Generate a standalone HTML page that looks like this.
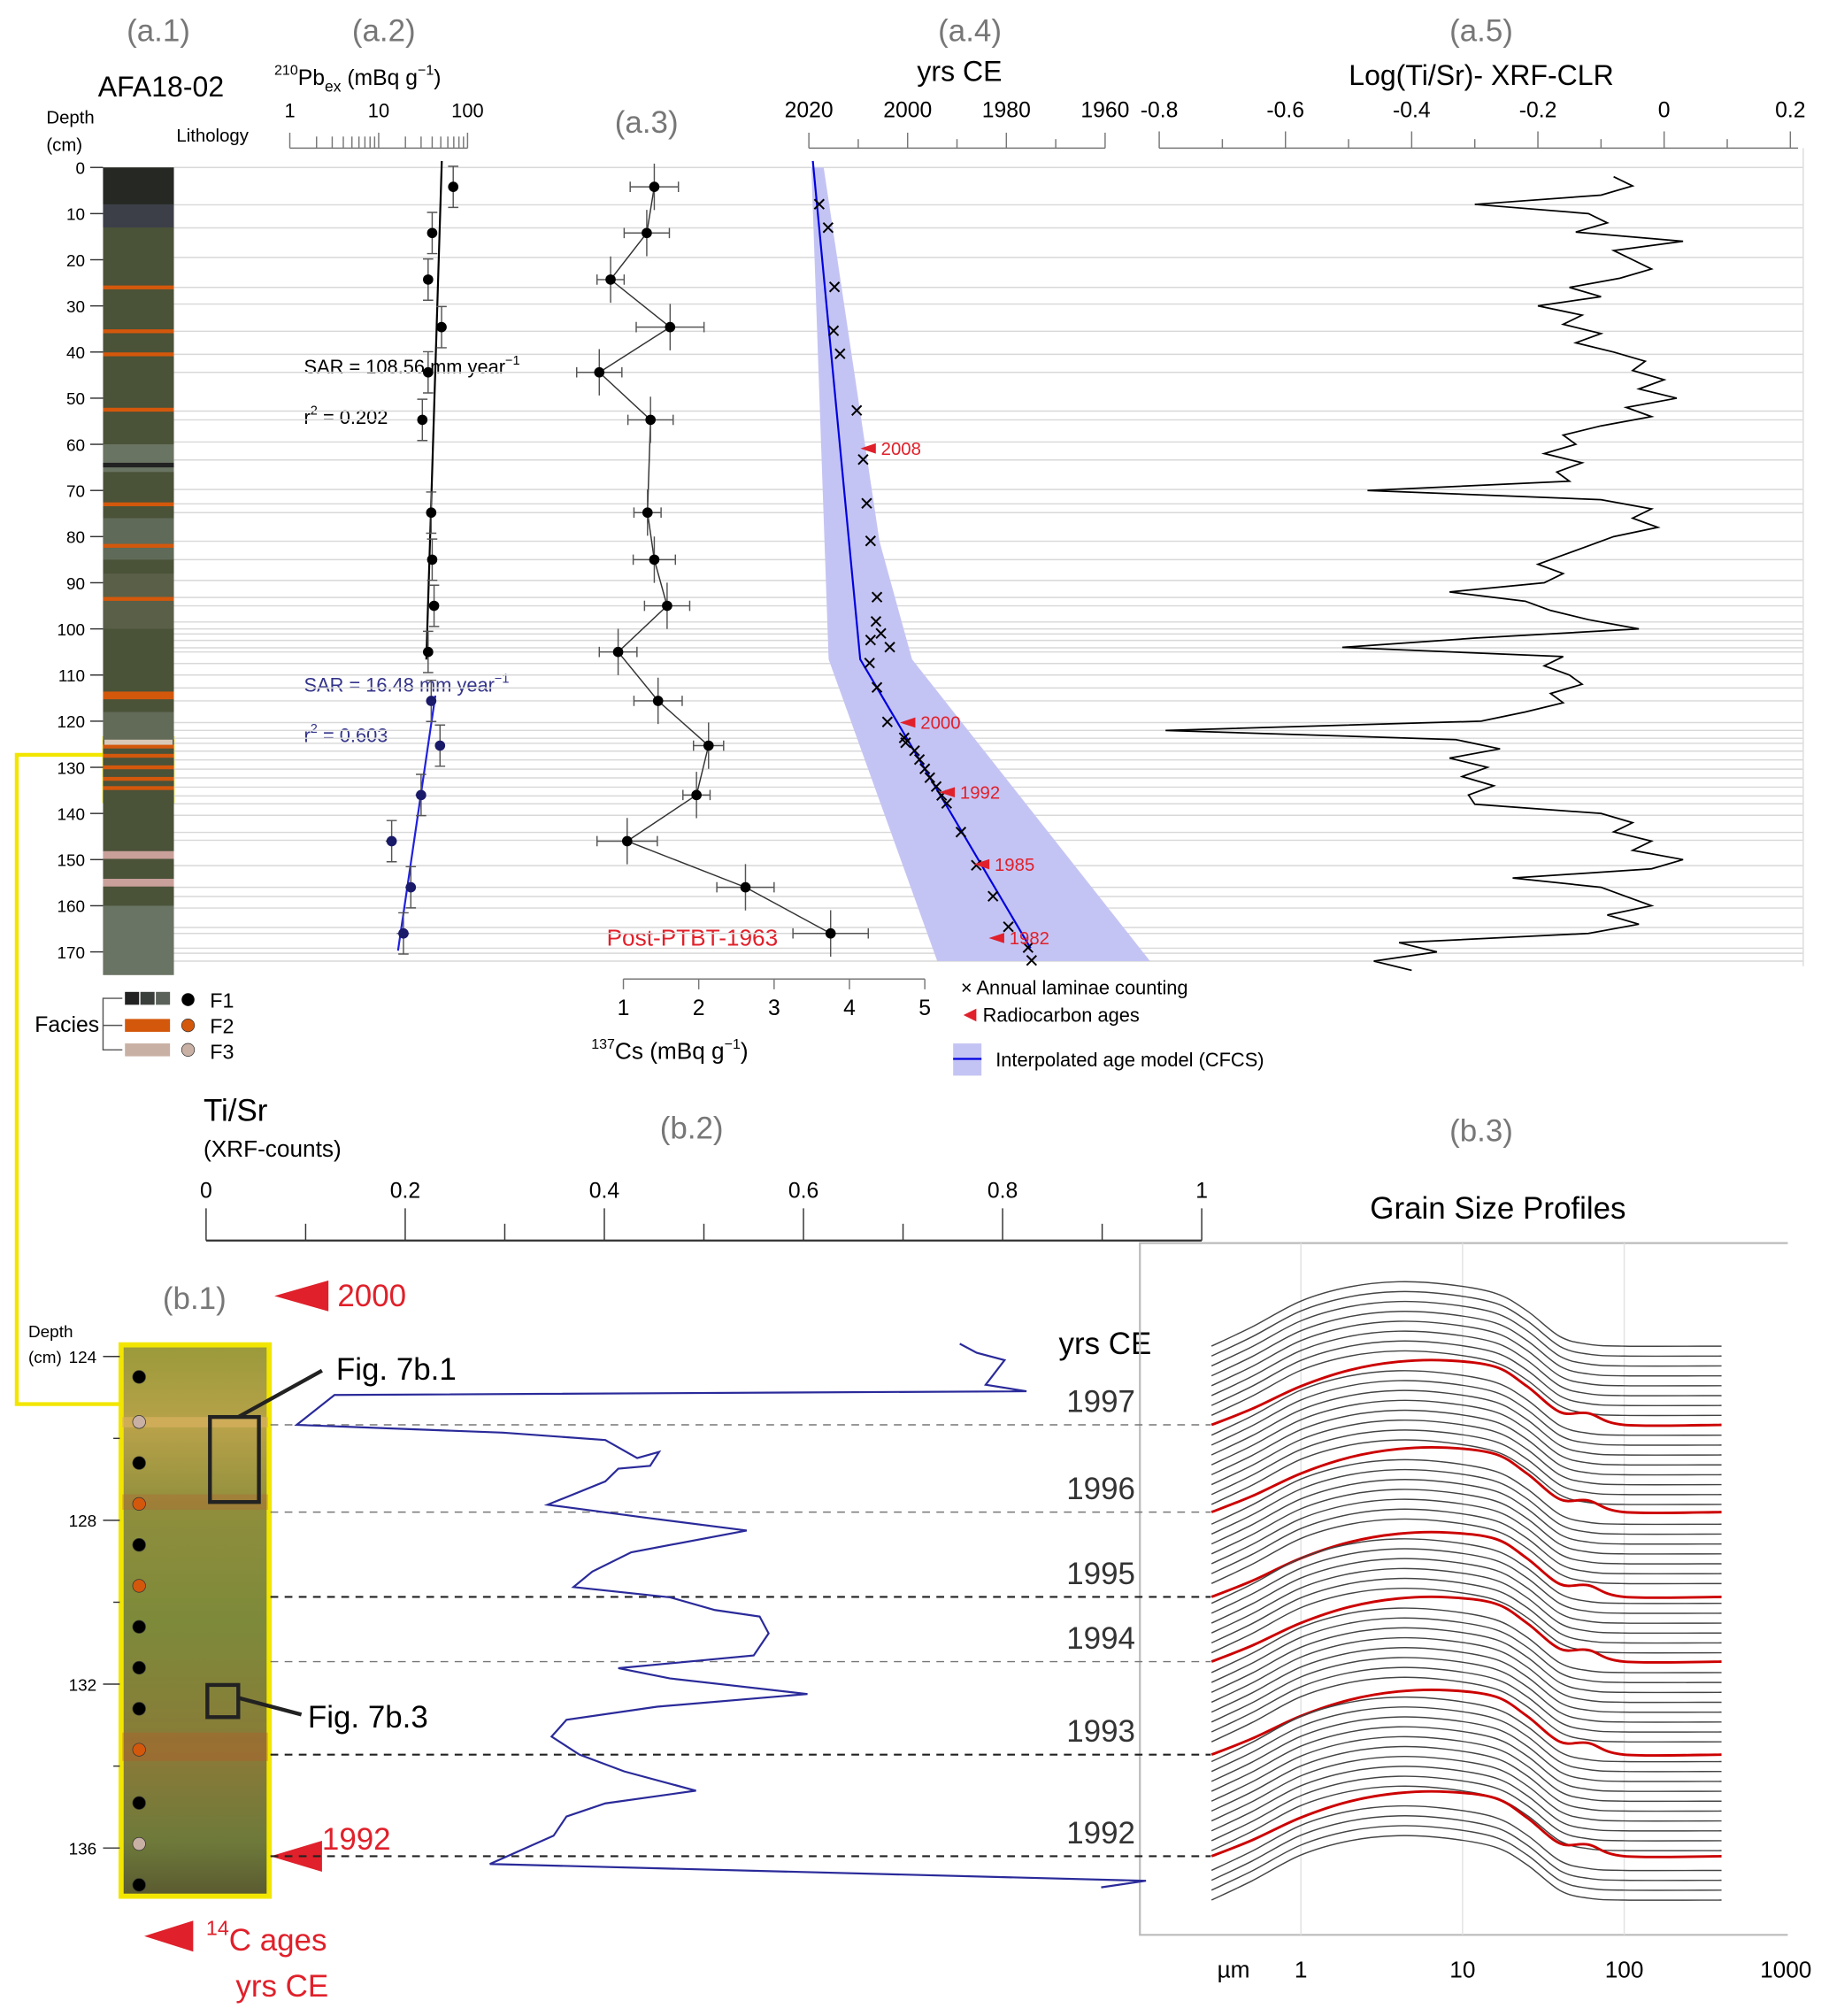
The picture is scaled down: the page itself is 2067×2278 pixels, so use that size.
<!DOCTYPE html>
<html><head><meta charset="utf-8"><style>
html,body{margin:0;padding:0;background:#fff}
svg{display:block}
text{font-family:"Liberation Sans",sans-serif}
</style></head><body>
<svg id="fig" width="2067" height="2278" viewBox="0 0 1420 1565" preserveAspectRatio="none" xmlns="http://www.w3.org/2000/svg">
<g id="static">
<text x="123" y="32" font-size="24" fill="#777" text-anchor="middle">(a.1)</text>
<text x="298" y="32" font-size="24" fill="#777" text-anchor="middle">(a.2)</text>
<text x="502" y="103" font-size="24" fill="#777" text-anchor="middle">(a.3)</text>
<text x="753" y="32" font-size="24" fill="#777" text-anchor="middle">(a.4)</text>
<text x="1150" y="32" font-size="24" fill="#777" text-anchor="middle">(a.5)</text>
<text x="125" y="75" font-size="22" text-anchor="middle">AFA18-02</text>
<text x="745" y="63" font-size="22" text-anchor="middle">yrs CE</text>
<text x="1150" y="66" font-size="22" text-anchor="middle">Log(Ti/Sr)- XRF-CLR</text>
<text x="213" y="66" font-size="17"><tspan font-size="11" dy="-8">210</tspan><tspan dy="8">Pb</tspan><tspan font-size="12" dy="5">ex</tspan><tspan dy="-5"> (mBq g</tspan><tspan font-size="11" dy="-8">−1</tspan><tspan dy="8">)</tspan></text>
<text x="36" y="96" font-size="14">Depth</text>
<text x="36" y="117" font-size="14">(cm)</text>
<text x="137" y="110" font-size="14">Lithology</text>
<text x="520" y="822" font-size="18" text-anchor="middle"><tspan font-size="11" dy="-8">137</tspan><tspan dy="8">Cs (mBq g</tspan><tspan font-size="11" dy="-8">−1</tspan><tspan dy="8">)</tspan></text>
<text x="236" y="290" font-size="15">SAR = 108.56  mm year<tspan font-size="10" dy="-7">−1</tspan></text>
<text x="236" y="329" font-size="15">r<tspan font-size="10" dy="-7">2</tspan><tspan dy="7"> = 0.202</tspan></text>
<text x="236" y="537" font-size="15" fill="#33338a">SAR = 16.48  mm year<tspan font-size="10" dy="-7">−1</tspan></text>
<text x="236" y="576" font-size="15" fill="#33338a">r<tspan font-size="10" dy="-7">2</tspan><tspan dy="7"> = 0.603</tspan></text>
<text x="471" y="734" font-size="18" fill="#e0202a">Post-PTBT-1963</text>
<rect x="97" y="770" width="11" height="10" fill="#222"/>
<rect x="109" y="770" width="11" height="10" fill="#3b3f3c"/>
<rect x="121" y="770" width="11" height="10" fill="#5a625a"/>
<rect x="97" y="791" width="35" height="10" fill="#d4580c"/>
<rect x="97" y="810" width="35" height="10" fill="#c9b0a4"/>
<circle cx="146" cy="776" r="5" fill="#000"/>
<circle cx="146" cy="796" r="5" fill="#d4580c" stroke="#333" stroke-width="0.5"/>
<circle cx="146" cy="815" r="5" fill="#c9b0a4" stroke="#333" stroke-width="0.5"/>
<text x="163" y="782" font-size="16">F1</text>
<text x="163" y="802" font-size="16">F2</text>
<text x="163" y="822" font-size="16">F3</text>
<text x="27" y="801" font-size="17">Facies</text>
<path d="M95,775 H80 V815 H95 M80,796 H95" fill="none" stroke="#555" stroke-width="1"/>
<text x="746" y="772" font-size="15">× Annual laminae counting</text>
<polygon points="748,788 758,783 758,793" fill="#e0202a"/>
<text x="763" y="793" font-size="15">Radiocarbon ages</text>
<rect x="740" y="810" width="22" height="25" fill="#c4c4f4"/>
<line x1="740" y1="822" x2="762" y2="822" stroke="#0000e0" stroke-width="1.5"/>
<text x="773" y="828" font-size="15">Interpolated age model (CFCS)</text>
<rect x="81" y="573" width="53" height="49" fill="none" stroke="#f2e600" stroke-width="3"/>
<path d="M81,586 H13 V1090 H93" fill="none" stroke="#f2e600" stroke-width="3"/>
<text x="158" y="870" font-size="24">Ti/Sr</text>
<text x="158" y="898" font-size="18">(XRF-counts)</text>
<text x="537" y="884" font-size="24" fill="#777" text-anchor="middle">(b.2)</text>
<text x="1150" y="886" font-size="24" fill="#777" text-anchor="middle">(b.3)</text>
<text x="1163" y="946" font-size="24" text-anchor="middle">Grain Size Profiles</text>
<text x="151" y="1016" font-size="24" fill="#777" text-anchor="middle">(b.1)</text>
<polygon points="213,1006 255,994 255,1018" fill="#e0202a"/>
<text x="262" y="1014" font-size="24" fill="#e0202a">2000</text>
<text x="22" y="1038" font-size="13">Depth</text>
<text x="22" y="1058" font-size="13">(cm)</text>
<defs><linearGradient id="core" x1="0" y1="0" x2="0" y2="1">
<stop offset="0" stop-color="#9a9a3a"/><stop offset="0.15" stop-color="#b8a24a"/><stop offset="0.3" stop-color="#8f8e3c"/><stop offset="0.5" stop-color="#7d8a3a"/><stop offset="0.75" stop-color="#8a7a38"/><stop offset="0.9" stop-color="#6e7a3a"/><stop offset="1" stop-color="#5a5a30"/></linearGradient></defs>
<rect x="94" y="1044" width="115" height="428" fill="url(#core)" stroke="#f2e600" stroke-width="4"/>
<rect x="95" y="1100" width="113" height="8" fill="#d8b060" opacity="0.7"/>
<rect x="95" y="1160" width="113" height="12" fill="#b86030" opacity="0.35"/>
<rect x="95" y="1345" width="113" height="22" fill="#b85a28" opacity="0.35"/>
<rect x="163" y="1100" width="38" height="66" fill="none" stroke="#222" stroke-width="3"/>
<line x1="185" y1="1100" x2="250" y2="1064" stroke="#222" stroke-width="3"/>
<text x="261" y="1071" font-size="24">Fig. 7b.1</text>
<rect x="161" y="1308" width="24" height="25" fill="none" stroke="#222" stroke-width="3"/>
<line x1="185" y1="1318" x2="234" y2="1331" stroke="#222" stroke-width="3"/>
<text x="239" y="1341" font-size="24">Fig. 7b.3</text>
<polygon points="210,1441 250,1429 250,1453" fill="#e0202a"/>
<text x="250" y="1436" font-size="24" fill="#e0202a">1992</text>
<polygon points="112,1503 150,1491 150,1515" fill="#e0202a"/>
<text x="160" y="1514" font-size="24" fill="#e0202a"><tspan font-size="16" dy="-12">14</tspan><tspan dy="12">C ages</tspan></text>
<text x="183" y="1550" font-size="24" fill="#e0202a">yrs CE</text>
<text x="822" y="1051" font-size="24">yrs CE</text>
<path d="M1388,965 H885 V1502 H1388" fill="none" stroke="#bbb" stroke-width="1.5"/>
<text x="945" y="1535" font-size="18">µm</text>
</g>
<g id="dyn"></g>
</svg>
<script>
const laminaDepths=[0,8.1,13.1,19.5,26,29.6,35.5,40.5,44.4,52.8,54.7,59.5,63.4,69.8,72.9,74.8,81,85,89.5,93.2,95,98.5,100,101.1,102.5,104.1,105,107.5,110,112.8,115.6,120.3,122,123.7,124.8,126.5,128.4,130.4,132.3,134.3,136.2,137.9,140.4,144.1,145.8,151.3,156,158,160.5,164.7,166,169.2,170.3,172];
const lithOrange=[26,35.5,40.5,52.5,73,82,93.5,114,125.5,127.5,130,132.5,134.5];
const lithPink=[149,155];
const depthTicks=[0,10,20,30,40,50,60,70,80,90,100,110,120,130,140,150,160,170];
const pbDepth=[4.2,14.2,24.3,34.6,44.4,54.7,74.8,85,95,105,115.6,125.3,136,146,156,166];
const pbValue=[69,40,36,51,36,31,39,40,42,36,39,49,30,14,23,19];
const pbErr=[5,4,3,5,4,3,3,4,5,3,3,4,4,2,3,3];
const csDepth=[4.2,14.2,24.3,34.6,44.4,54.7,74.8,85,95,105,115.6,125.3,136,146,156,166];
const csValue=[1.41,1.31,0.83,1.62,0.68,1.36,1.32,1.41,1.58,0.93,1.46,2.13,1.97,1.05,2.62,3.75];
const csErr=[0.32,0.3,0.18,0.45,0.3,0.3,0.18,0.28,0.3,0.25,0.32,0.2,0.18,0.4,0.38,0.5];
const lamYear=[2017.9,2016.1,2014.8,2015,2013.7,2010.3,2009,2008.3,2007.5,2006.2,2006.4,2005.4,2007.5,2003.6,2007.7,2006.2,2004.1,2000.7,2000.4,1998.6,1997.6,1996.5,1995.5,1994.2,1993.1,1992.1,1989.2,1986.1,1982.7,1979.6,1975.6,1974.9];
const lamDepth=[8.1,13.1,26,35.5,40.5,52.8,63.4,72.9,81,93.2,98.5,101.1,102.5,104.1,107.5,112.8,120.3,123.7,124.8,126.5,128.4,130.4,132.3,134.3,136.2,137.9,144.1,151.3,158,164.7,169.2,172];
const c14Year=[2008,2000,1992,1985,1982];
const c14Depth=[60.9,120.3,135.4,151,167];
const modelYear=[2019.2,2009.6,1975.1];
const modelDepth=[-1.4,106.6,169.2];
const bandLeftYear=[2019.5,2016,1994];
const bandLeftDepth=[0,106.6,172];
const bandRightYear=[2017,2005.7,1999.1,1950.9];
const bandRightDepth=[0,81,106.6,172];
const clrDepth=[2,4,6,8,10,12,14,16,18,20,22,24,26,28,30,32,34,36,38,40,42,44,46,48,50,52,54,56,58,60,62,64,66,68,70,72,74,76,78,80,82,84,86,88,90,92,94,96,98,100,102,104,106,108,110,112,114,116,118,120,122,124,126,128,130,132,134,136,138,140,142,144,146,148,150,152,154,156,158,160,162,164,166,168,170,172,174];
const clrValue=[-0.08,-0.05,-0.1,-0.3,-0.12,-0.09,-0.14,0.03,-0.08,-0.05,-0.02,-0.07,-0.15,-0.1,-0.2,-0.13,-0.16,-0.1,-0.14,-0.08,-0.03,-0.05,0.0,-0.04,0.02,-0.06,-0.02,-0.1,-0.16,-0.14,-0.19,-0.13,-0.17,-0.15,-0.47,-0.1,-0.02,-0.05,-0.01,-0.08,-0.12,-0.16,-0.2,-0.16,-0.19,-0.34,-0.22,-0.18,-0.12,-0.04,-0.3,-0.51,-0.16,-0.19,-0.15,-0.13,-0.18,-0.16,-0.22,-0.29,-0.79,-0.33,-0.26,-0.34,-0.28,-0.32,-0.27,-0.31,-0.3,-0.1,-0.05,-0.08,-0.02,-0.05,0.03,-0.02,-0.24,-0.1,-0.06,-0.02,-0.09,-0.04,-0.12,-0.42,-0.36,-0.46,-0.4];
const tisrDepth=[123.69,123.91,124.09,124.69,124.85,124.94,125.67,125.86,126.04,126.48,126.33,126.67,126.74,127.05,127.62,127.68,127.93,128.25,128.78,129.25,129.63,129.88,130.19,130.35,130.76,131.3,131.61,131.86,132.24,132.55,132.87,133.28,133.72,134.13,134.6,134.91,135.23,135.7,136.39,136.8,136.96];
const tisrValue=[0.757,0.774,0.802,0.783,0.824,0.129,0.091,0.298,0.401,0.433,0.455,0.446,0.414,0.401,0.343,0.362,0.44,0.543,0.427,0.388,0.369,0.466,0.511,0.556,0.565,0.55,0.414,0.466,0.604,0.453,0.362,0.347,0.375,0.42,0.492,0.401,0.362,0.349,0.285,0.944,0.899];
const bDepthTicks=[124,128,132,136];
const dotDepth=[124.5,125.6,126.6,127.6,128.6,129.6,130.6,131.6,132.6,133.6,134.9,135.9,136.9];
const dotFacies=[1,3,1,2,1,2,1,1,1,2,1,3,1];
const yearLabels=[1997,1996,1995,1994,1993,1992];
const yearDepth=[125.67,127.8,129.87,131.45,133.72,136.2];
const grainSizes=[0.28,0.5,1,2,4,8,16,25,40,60,100,400];
const grayShape=[0,0.3,0.7,0.92,1,0.96,0.82,0.55,0.15,0.03,0,0];
const redShape=[0,0.25,0.6,0.85,0.98,1,0.9,0.6,0.2,0.18,0,0];
const grainCount=57;
const grainLabels=["1","10","100","1000"];
const grainLabelVals=[1,10,100,1000];
const NS="http://www.w3.org/2000/svg";
const dyn=document.getElementById('dyn');
const yD=d=>130+d*3.582;
const xPb=v=>225+69*Math.log10(v);
const xCs=v=>484+58.5*(v-1);
const xYr=y=>628+(2020-y)*3.833;
const xClr=v=>900+(v+0.8)*490;
const xTi=v=>160+773*v;
const yB=d=>1053+(d-124)*31.8;
const xG=s=>1010+125.5*Math.log10(s);
function mk(tag,attrs,txt){const e=document.createElementNS(NS,tag);for(const k in attrs)e.setAttribute(k,attrs[k]);if(txt!==undefined)e.textContent=txt;dyn.appendChild(e);return e;}
let e;
laminaDepths.forEach(d=>{e=mk('line',{x1:135,x2:1400,y1:yD(d),y2:yD(d),stroke:'#d8d8d8','stroke-width':1});

});
e=mk('line',{x1:1400,x2:1400,y1:115,y2:750,stroke:'#ddd'});


e=mk('rect',{x:80,y:yD(0),width:55,height:yD(175)-yD(0),fill:'#4a5238'});


e=mk('rect',{x:80,y:yD(0),width:55,height:yD(8)-yD(0),fill:'#262824'});


e=mk('rect',{x:80,y:yD(8),width:55,height:yD(13)-yD(8),fill:'#3c3f48'});


[[60,66,'#6a7462'],[64,65,'#222'],[76,85,'#5f6a58'],[88,100,'#5a5f48'],[118,124,'#626a58'],[160,175,'#6a7464']].forEach(b=>{e=mk('rect',{x:80,y:yD(b[0]),width:55,height:yD(b[1])-yD(b[0]),fill:b[2]});

});
lithOrange.forEach(d=>{e=mk('rect',{x:80,y:yD(d)-1.5,width:55,height:d==114?6:3,fill:'#d4580c'});

});
lithPink.forEach(d=>{e=mk('rect',{x:80,y:yD(d)-3,width:55,height:6,fill:'#c9a09a'});

});
e=mk('rect',{x:81,y:yD(124),width:53,height:4,fill:'#d8c8b8'});


depthTicks.forEach(d=>{e=mk('text',{x:66,y:yD(d)+5,'font-size':13,'text-anchor':'end'},String(d));


e=mk('line',{x1:70,x2:80,y1:yD(d),y2:yD(d),stroke:'#333'});

});
e=mk('line',{x1:225,x2:363,y1:115,y2:115,stroke:'#777'});


[1,2,3,4,5,6,7,8,9,10,20,30,40,50,60,70,80,90,100].forEach(v=>{e=mk('line',{x1:xPb(v),x2:xPb(v),y1:115,y2:(v==1||v==10||v==100)?103:106,stroke:'#777'});

});
[1,10,100].forEach(v=>{e=mk('text',{x:xPb(v),y:91,'font-size':15,'text-anchor':'middle'},String(v));

});
e=mk('line',{x1:343,y1:125,x2:331,y2:512,stroke:'#000','stroke-width':1.5});


e=mk('line',{x1:338,y1:540,x2:309,y2:738,stroke:'#2020e0','stroke-width':1.5});


pbDepth.forEach((d,i)=>{const c=d>110?'#1a1a6a':'#000';const x=xPb(pbValue[i]),y=yD(d);
e=mk('path',{d:`M${x},${y-16}V${y+16}M${x-4},${y-16}H${x+4}M${x-4},${y+16}H${x+4}M${xPb(pbValue[i]-pbErr[i])},${y}H${xPb(pbValue[i]+pbErr[i])}`,stroke:'#555',fill:'none'});


e=mk('circle',{cx:x,cy:y,r:4,fill:c});

});
e=mk('polyline',{points:csDepth.map((d,i)=>xCs(csValue[i])+','+yD(d)).join(' '),fill:'none',stroke:'#333'});


csDepth.forEach((d,i)=>{const x=xCs(csValue[i]),y=yD(d),x1=xCs(csValue[i]-csErr[i]),x2=xCs(csValue[i]+csErr[i]);
e=mk('path',{d:`M${x},${y-18}V${y+18}M${x1},${y}H${x2}M${x1},${y-4}V${y+4}M${x2},${y-4}V${y+4}`,stroke:'#555',fill:'none'});


e=mk('circle',{cx:x,cy:y,r:4,fill:'#000'});

});
e=mk('line',{x1:xCs(1),x2:xCs(5),y1:760,y2:760,stroke:'#777'});


[1,2,3,4,5].forEach(v=>{e=mk('line',{x1:xCs(v),x2:xCs(v),y1:760,y2:768,stroke:'#777'});


e=mk('text',{x:xCs(v),y:788,'font-size':17,'text-anchor':'middle'},String(v));

});
const band=bandLeftYear.map((y,i)=>xYr(y)+','+yD(bandLeftDepth[i])).concat(bandRightYear.map((y,i)=>xYr(y)+','+yD(bandRightDepth[i])).reverse());
e=mk('polygon',{points:band.join(' '),fill:'#c4c4f4'});


e=mk('polyline',{points:modelYear.map((y,i)=>xYr(y)+','+yD(modelDepth[i])).join(' '),fill:'none',stroke:'#0000e0','stroke-width':1.5});


lamYear.forEach((y,i)=>{e=mk('text',{x:xYr(y),y:yD(lamDepth[i])+6,'font-size':19,'text-anchor':'middle'},'×');

});
c14Year.forEach((y,i)=>{const x=xYr(y),yy=yD(c14Depth[i]);
e=mk('polygon',{points:`${x-6},${yy} ${x+6},${yy-4} ${x+6},${yy+4}`,fill:'#e0202a'});


e=mk('text',{x:x+10,y:yy+5,'font-size':14,fill:'#e0202a'},String(y));

});
e=mk('line',{x1:628,x2:858,y1:115,y2:115,stroke:'#777'});


[2020,2010,2000,1990,1980,1970,1960].forEach(v=>{e=mk('line',{x1:xYr(v),x2:xYr(v),y1:115,y2:v%20==0?103:108,stroke:'#777'});

});
[2020,2000,1980,1960].forEach(v=>{e=mk('text',{x:xYr(v),y:91,'font-size':17,'text-anchor':'middle'},String(v));

});
e=mk('line',{x1:900,x2:1396,y1:115,y2:115,stroke:'#777'});


for(let k=0;k<=10;k++){const v=-0.8+k*0.1;e=mk('line',{x1:xClr(v),x2:xClr(v),y1:115,y2:k%2==0?102:108,stroke:'#777'});

}
['-0.8','-0.6','-0.4','-0.2','0','0.2'].forEach(s=>{e=mk('text',{x:xClr(+s),y:91,'font-size':17,'text-anchor':'middle'},s);

});
e=mk('polyline',{points:clrDepth.map((d,i)=>xClr(clrValue[i])+','+yD(d)).join(' '),fill:'none',stroke:'#000','stroke-width':1.2});


e=mk('line',{x1:xTi(0),x2:xTi(1),y1:963,y2:963,stroke:'#333','stroke-width':1.5});


for(let k=0;k<=10;k++){e=mk('line',{x1:xTi(k/10),x2:xTi(k/10),y1:963,y2:k%2==0?938:950,stroke:'#333'});

}
['0','0.2','0.4','0.6','0.8','1'].forEach(s=>{e=mk('text',{x:xTi(+s),y:930,'font-size':17,'text-anchor':'middle'},s);

});
bDepthTicks.forEach(d=>{e=mk('text',{x:75,y:yB(d)+5,'font-size':13,'text-anchor':'end'},String(d));


e=mk('line',{x1:80,x2:93,y1:yB(d),y2:yB(d),stroke:'#333'});

});
[126,130,134].forEach(d=>{e=mk('line',{x1:88,x2:93,y1:yB(d),y2:yB(d),stroke:'#333'});

});
const fc=['#000','#d4580c','#c9b0a4'];
dotDepth.forEach((d,i)=>{e=mk('circle',{cx:108,cy:yB(d),r:5,fill:fc[dotFacies[i]-1],stroke:'#333','stroke-width':0.5});

});
yearLabels.forEach((y,i)=>{const yy=yB(yearDepth[i]);const dark=(i==2||i==4||i==5);
e=mk('line',{x1:210,x2:940,y1:yy,y2:yy,stroke:dark?'#222':'#777','stroke-dasharray':'6,5','stroke-width':dark?1.5:1});


e=mk('text',{x:828,y:yy-10,'font-size':24,fill:'#333'},String(y));

});
e=mk('polyline',{points:tisrDepth.map((d,i)=>xTi(tisrValue[i])+','+yB(d)).join(' '),fill:'none',stroke:'#2a2a9a','stroke-width':1.5});


grainLabelVals.forEach((v,i)=>{if(v<1000){e=mk('line',{x1:xG(v),x2:xG(v),y1:965,y2:1502,stroke:'#e2e2e2'});

}
e=mk('text',{x:xG(v),y:1535,'font-size':18,'text-anchor':'middle'},grainLabels[i]);

});
const redY=yearDepth.map(yB);
const bases=[];for(let k=0;k<grainCount;k++)bases.push(1045+k*(1475-1045)/(grainCount-1));
redY.forEach(r=>{let bi=0;bases.forEach((b,j)=>{if(Math.abs(b-r)<Math.abs(bases[bi]-r))bi=j;});bases[bi]=r;});
function smooth(pts){let d=`M${pts[0][0]},${pts[0][1]}`;
for(let i=0;i<pts.length-1;i++){const p0=pts[Math.max(0,i-1)],p1=pts[i],p2=pts[i+1],p3=pts[Math.min(pts.length-1,i+2)];
const c1x=p1[0]+(p2[0]-p0[0])/6,c1y=p1[1]+(p2[1]-p0[1])/6,c2x=p2[0]-(p3[0]-p1[0])/6,c2y=p2[1]-(p3[1]-p1[1])/6;
d+=` C${c1x},${c1y} ${c2x},${c2y} ${p2[0]},${p2[1]}`;}return d;}
bases.forEach(b=>{const isRed=redY.includes(b);const sh=isRed?redShape:grayShape;
const pts=grainSizes.map((s,i)=>[xG(s),b-50*sh[i]]);
const d=smooth(pts)+' H1335';
e=mk('path',{d:d,fill:'none',stroke:isRed?'#c00':'#444','stroke-width':isRed?2:1});

});
</script>
</body></html>
